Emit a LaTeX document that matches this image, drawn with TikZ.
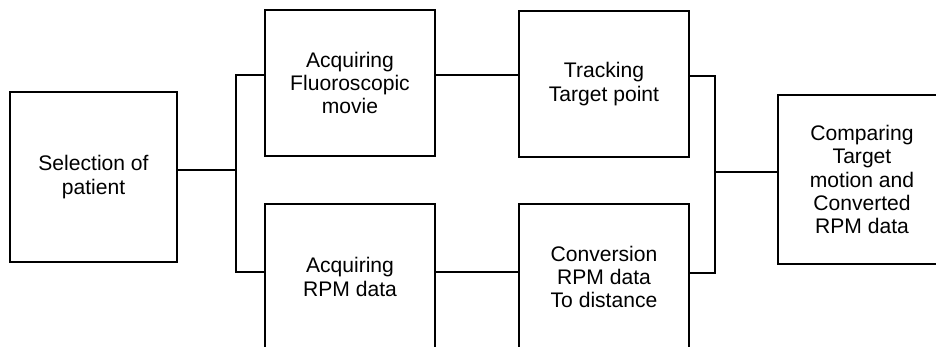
\documentclass[tikz,border=0pt]{standalone}
\usepackage{fontspec}
\setmainfont{Liberation Sans}

\tikzset{
  stage/.style={draw, line width=0.8pt, align=center, inner sep=0pt,
    font=\fontsize{12}{13.3}\selectfont,
    minimum width=3.4cm, minimum height=2.92cm},
  wire/.style={line width=0.8pt}
}

\begin{document}
\begin{tikzpicture}[x=0.02cm, y=-0.02cm]
  \clip (0,0) rectangle (936,346);
  % Blocks
  \node[stage, minimum width=3.34cm, minimum height=3.4cm] (sel) at (93.5,177) {Selection of\\patient};
  \node[stage] (acqF) at (350,83) {Acquiring\\Fluoroscopic\\movie};
  \node[stage] (acqR) at (350,277) {Acquiring\\RPM data};
  \node[stage] (track) at (604,84) {Tracking\\Target point};
  \node[stage] (conv) at (604,277) {Conversion\\RPM data\\To distance};
  \node[stage, minimum width=3.36cm, minimum height=3.38cm] (comp) at (862,179.5) {Comparing\\Target\\motion and\\Converted\\RPM data};
  % Split
  \coordinate (split) at (236,170);
  \coordinate (splitT) at (236,75);
  \coordinate (splitB) at (236,272);
  \draw[wire] (sel.east |- split) -- (split);
  \draw[wire] (acqF.west |- splitT) -- (splitT) -- (splitB) -- (acqR.west |- splitB);
  % Middle
  \draw[wire] (acqF.east |- splitT) -- (track.west |- splitT);
  \draw[wire] (acqR.east |- splitB) -- (conv.west |- splitB);
  % Join
  \coordinate (join) at (715,172);
  \coordinate (joinT) at (715,76);
  \coordinate (joinB) at (715,273);
  \draw[wire] (track.east |- joinT) -- (joinT) -- (joinB) -- (conv.east |- joinB);
  \draw[wire] (join) -- (comp.west |- join);
\end{tikzpicture}
\end{document}
